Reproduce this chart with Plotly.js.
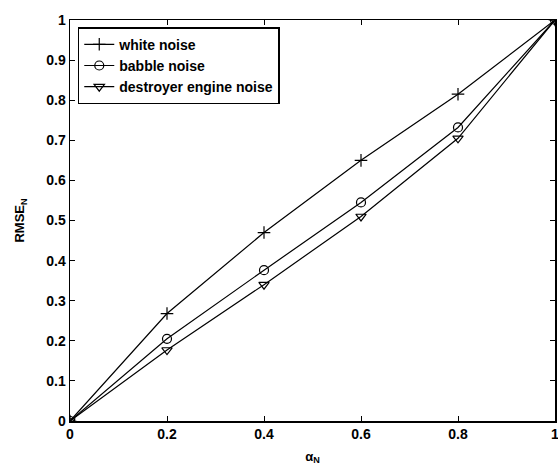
<!DOCTYPE html>
<html><head><meta charset="utf-8">
<script src="https://cdn.plot.ly/plotly-3.0.1.min.js"></script>
<style>body{margin:0;background:#fff}#c{width:558px;height:466px}</style>
</head><body><div id="c"></div>
<script>
const alphaN = [0, 0.2, 0.4, 0.6, 0.8, 1];
const whiteNoise = [0, 0.268, 0.47, 0.65, 0.815, 1];
const babbleNoise = [0, 0.205, 0.376, 0.545, 0.732, 1];
const destroyerNoise = [0, 0.177, 0.34, 0.51, 0.705, 1];
const seriesNames = ['white noise', 'babble noise', 'destroyer engine noise'];
const xTicks = [0, 0.2, 0.4, 0.6, 0.8, 1];
const xTickText = ['0', '0.2', '0.4', '0.6', '0.8', '1'];
const yTicks = [0, 0.1, 0.2, 0.3, 0.4, 0.5, 0.6, 0.7, 0.8, 0.9, 1];
const yTickText = ['0', '0.1', '0.2', '0.3', '0.4', '0.5', '0.6', '0.7', '0.8', '0.9', '1'];

const font = {family: 'Liberation Sans, Arial, sans-serif', color: '#000'};
const mk = (sym) => ({symbol: sym, size: 9, color: '#000', line: {color: '#000', width: 1.2}});
const traces = [
  {x: alphaN, y: whiteNoise, name: seriesNames[0], mode: 'lines+markers', line: {color: '#000', width: 1.2}, marker: mk('cross-thin')},
  {x: alphaN, y: babbleNoise, name: seriesNames[1], mode: 'lines+markers', line: {color: '#000', width: 1.2}, marker: mk('circle-open')},
  {x: alphaN, y: destroyerNoise, name: seriesNames[2], mode: 'lines+markers', line: {color: '#000', width: 1.2}, marker: mk('triangle-down-open')}
];
const axisCommon = {
  showgrid: false, zeroline: false, showline: true, mirror: 'ticks',
  linecolor: '#000', linewidth: 1.5, ticks: 'inside', ticklen: 5, tickcolor: '#000',
  ticklabeloverflow: 'allow',
  tickfont: Object.assign({size: 14, weight: 'bold'}, font)
};
const layout = {
  width: 558, height: 466,
  margin: {l: 70, r: 3, t: 20, b: 45},
  paper_bgcolor: '#fff', plot_bgcolor: '#fff',
  showlegend: true,
  legend: {x: 0.016, y: 0.982, xanchor: 'left', yanchor: 'top', bordercolor: '#000', borderwidth: 1.5,
    bgcolor: '#fff', font: Object.assign({size: 14, weight: 'bold'}, font), tracegroupgap: 0},
  xaxis: Object.assign({}, axisCommon, {range: [0, 1], tickvals: xTicks, ticktext: xTickText,
    title: {text: 'α<sub>N</sub>', font: Object.assign({size: 13, weight: 'bold'}, font), standoff: 10}}),
  yaxis: Object.assign({}, axisCommon, {range: [0, 1], tickvals: yTicks, ticktext: yTickText,
    title: {text: 'RMSE<sub>N</sub>', font: Object.assign({size: 13, weight: 'bold'}, font), standoff: 18}})
};
Plotly.newPlot('c', traces, layout, {displayModeBar: false, staticPlot: true});
</script></body></html>
